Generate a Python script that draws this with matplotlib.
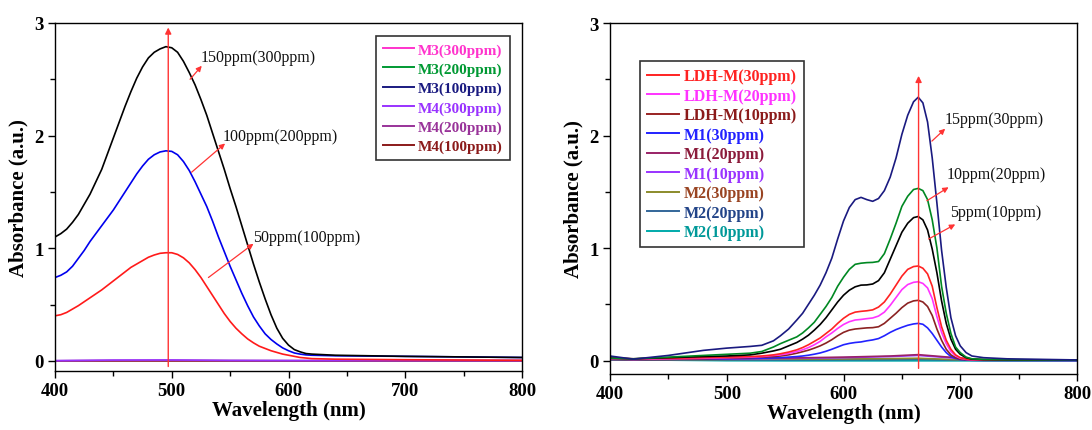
import matplotlib
matplotlib.use("Agg")
import matplotlib.pyplot as plt
from matplotlib.lines import Line2D

plt.rcParams["font.family"] = ["Liberation Serif", "DejaVu Serif"]

# ── left panel: M3 / M4 ────────────────────────────────────────────────
wl_left = [400, 405, 410, 415, 420, 425, 430, 435, 440, 445, 450, 455, 460, 465, 470, 475,
           480, 485, 490, 495, 500, 505, 510, 515, 520, 525, 530, 535, 540, 545, 550, 555,
           560, 565, 570, 575, 580, 585, 590, 595, 600, 605, 610, 615, 620, 640, 700, 800]
m3_300 = [1.10, 1.13, 1.17, 1.23, 1.30, 1.39, 1.48, 1.59, 1.70, 1.84, 1.98, 2.12, 2.26, 2.39, 2.51, 2.61,
          2.69, 2.74, 2.77, 2.79, 2.78, 2.74, 2.66, 2.56, 2.45, 2.32, 2.18, 2.02, 1.86, 1.70, 1.53, 1.37,
          1.20, 1.03, 0.86, 0.70, 0.55, 0.41, 0.29, 0.20, 0.14, 0.10, 0.08, 0.065, 0.06, 0.05, 0.04, 0.03]
m3_200 = [0.74, 0.76, 0.79, 0.84, 0.91, 0.98, 1.06, 1.13, 1.20, 1.27, 1.34, 1.42, 1.50, 1.58, 1.66, 1.73,
          1.79, 1.83, 1.855, 1.865, 1.86, 1.83, 1.77, 1.69, 1.59, 1.48, 1.37, 1.24, 1.10, 0.97, 0.84, 0.72,
          0.60, 0.49, 0.39, 0.31, 0.24, 0.19, 0.15, 0.115, 0.09, 0.07, 0.06, 0.053, 0.05, 0.045, 0.04, 0.03]
m3_100 = [0.40, 0.41, 0.43, 0.46, 0.49, 0.525, 0.56, 0.595, 0.63, 0.67, 0.71, 0.75, 0.79, 0.83, 0.86, 0.89,
          0.92, 0.94, 0.955, 0.96, 0.96, 0.945, 0.915, 0.87, 0.81, 0.74, 0.66, 0.58, 0.50, 0.42, 0.35, 0.29,
          0.24, 0.195, 0.16, 0.13, 0.11, 0.09, 0.075, 0.06, 0.05, 0.04, 0.03, 0.025, 0.02, 0.015, 0.01, 0.005]
wl_m4 = [400, 450, 500, 550, 600, 700, 800]
m4_300 = [0.002, 0.007, 0.008, 0.004, 0.003, 0.003, 0.003]
m4_200 = [0.001, 0.004, 0.005, 0.003, 0.002, 0.002, 0.002]
m4_100 = [0.0, 0.0, 0.0, 0.0, 0.0, 0.0, 0.0]

left_big = [m3_300, m3_200, m3_100]
left_big_colors = ["#000000", "#0000ee", "#ff1a1a"]
left_flat = [m4_300, m4_200, m4_100]
left_flat_colors = ["#9933ff", "#993399", "#8b1a1a"]
left_labels = ["M3(300ppm)", "M3(200ppm)", "M3(100ppm)",
               "M4(300ppm)", "M4(200ppm)", "M4(100ppm)"]
left_legend_colors = ["#ff33cc", "#009933", "#1a1a80", "#9933ff", "#993399", "#8b1a1a"]

left_notes = ["150ppm(300ppm)", "100ppm(200ppm)", "50ppm(100ppm)"]
left_note_base = [(515.7, 2.50), (517, 1.675), (531.4, 0.74)]
left_note_head = [(525.7, 2.62), (545.7, 1.93), (570, 1.04)]
left_note_text = [(525, 2.70), (544, 2.00), (570, 1.10)]
left_peak = 497

# ── right panel: LDH-M / M1 / M2 ───────────────────────────────────────
wl_right = [400, 420, 450, 480, 500, 520, 530, 540, 546, 553, 560, 565, 570, 575, 580, 585,
            590, 595, 600, 605, 610, 615, 620, 625, 630, 635, 640, 645, 650, 655, 660, 664,
            668, 672, 676, 680, 684, 688, 692, 696, 700, 705, 710, 720, 740, 800]
r_navy = [0.04, 0.012, 0.045, 0.09, 0.11, 0.125, 0.135, 0.175, 0.22, 0.28, 0.36, 0.42, 0.50, 0.58, 0.67, 0.78,
          0.91, 1.08, 1.24, 1.36, 1.43, 1.45, 1.43, 1.415, 1.44, 1.51, 1.63, 1.80, 2.01, 2.18, 2.30, 2.34,
          2.29, 2.12, 1.80, 1.40, 0.98, 0.65, 0.38, 0.22, 0.13, 0.07, 0.04, 0.025, 0.015, 0.005]
r_green = [0.02, 0.015, 0.03, 0.045, 0.055, 0.065, 0.08, 0.12, 0.15, 0.18, 0.21, 0.245, 0.29, 0.34, 0.41, 0.48,
           0.56, 0.66, 0.74, 0.81, 0.855, 0.865, 0.87, 0.872, 0.88, 0.95, 1.08, 1.22, 1.37, 1.46, 1.52, 1.53,
           1.51, 1.43, 1.25, 1.00, 0.66, 0.42, 0.24, 0.12, 0.07, 0.03, 0.015, 0.01, 0.007, 0.005]
r_black = [0.02, 0.015, 0.025, 0.035, 0.04, 0.05, 0.065, 0.085, 0.10, 0.13, 0.16, 0.19, 0.225, 0.27, 0.32, 0.38,
           0.45, 0.52, 0.58, 0.625, 0.655, 0.67, 0.672, 0.68, 0.71, 0.78, 0.90, 1.02, 1.14, 1.22, 1.27, 1.28,
           1.25, 1.16, 0.99, 0.78, 0.53, 0.33, 0.19, 0.10, 0.055, 0.025, 0.012, 0.008, 0.006, 0.005]
r_red = [0.02, 0.015, 0.02, 0.025, 0.03, 0.035, 0.04, 0.05, 0.06, 0.075, 0.095, 0.115, 0.14, 0.17, 0.20, 0.24,
         0.28, 0.33, 0.375, 0.41, 0.43, 0.437, 0.442, 0.45, 0.475, 0.52, 0.59, 0.67, 0.75, 0.81, 0.835, 0.84,
         0.82, 0.77, 0.66, 0.47, 0.30, 0.18, 0.10, 0.05, 0.025, 0.012, 0.008, 0.006, 0.005, 0.005]
r_magenta = [0.015, 0.01, 0.015, 0.02, 0.025, 0.03, 0.035, 0.045, 0.05, 0.063, 0.08, 0.095, 0.115, 0.14, 0.17, 0.21,
             0.245, 0.285, 0.32, 0.345, 0.36, 0.365, 0.372, 0.378, 0.395, 0.43, 0.49, 0.56, 0.63, 0.675, 0.695, 0.70,
             0.685, 0.645, 0.55, 0.39, 0.25, 0.15, 0.08, 0.04, 0.02, 0.01, 0.007, 0.005, 0.005, 0.005]
r_brown = [0.01, 0.008, 0.01, 0.015, 0.02, 0.025, 0.03, 0.035, 0.04, 0.05, 0.065, 0.078, 0.092, 0.11, 0.13, 0.155,
           0.185, 0.22, 0.25, 0.27, 0.28, 0.285, 0.29, 0.292, 0.30, 0.33, 0.375, 0.42, 0.47, 0.51, 0.53, 0.535,
           0.52, 0.48, 0.40, 0.28, 0.18, 0.10, 0.05, 0.025, 0.012, 0.007, 0.005, 0.004, 0.004, 0.004]
r_blue = [0.01, 0.008, 0.01, 0.012, 0.015, 0.018, 0.02, 0.023, 0.025, 0.03, 0.035, 0.04, 0.047, 0.056, 0.067, 0.082,
          0.10, 0.12, 0.14, 0.152, 0.16, 0.165, 0.175, 0.183, 0.195, 0.22, 0.25, 0.275, 0.295, 0.313, 0.325, 0.33,
          0.322, 0.29, 0.24, 0.18, 0.12, 0.07, 0.035, 0.018, 0.008, 0.004, 0.002, 0.001, 0.0, 0.0]

wl_flat = [400, 420, 450, 500, 550, 600, 640, 664, 690, 720, 800]
r_m1_20 = [0.02, 0.015, 0.015, 0.018, 0.022, 0.03, 0.04, 0.052, 0.03, 0.005, 0.002]
r_m1_10 = [0.015, 0.012, 0.012, 0.014, 0.018, 0.025, 0.035, 0.045, 0.025, 0.004, 0.001]
r_m2_30 = [0.01, 0.008, 0.008, 0.01, 0.012, 0.014, 0.017, 0.02, 0.01, 0.002, 0.0]
r_m2_20 = [0.005, 0.004, 0.004, 0.005, 0.006, 0.007, 0.008, 0.01, 0.005, 0.001, 0.0]
r_m2_10 = [0.02, 0.01, 0.003, -0.002, -0.003, -0.003, -0.003, -0.003, -0.003, -0.003, -0.003]

right_big = [r_blue, r_brown, r_magenta, r_red, r_black, r_green, r_navy]
right_big_colors = ["#2222ff", "#8b2222", "#ff33ff", "#ff2222", "#000000", "#008822", "#1a1a80"]
right_flat = [r_m2_10, r_m2_20, r_m2_30, r_m1_10, r_m1_20]
right_flat_colors = ["#00aaaa", "#336699", "#8b8b2b", "#9933ff", "#992266"]
right_labels = ["LDH-M(30ppm)", "LDH-M(20ppm)", "LDH-M(10ppm)",
                "M1(30ppm)", "M1(20ppm)", "M1(10ppm)",
                "M2(30ppm)", "M2(20ppm)", "M2(10ppm)"]
right_legend_lines = ["#ff2222", "#ff33ff", "#992222", "#2222ff", "#992266",
                      "#9933ff", "#8b8b2b", "#336699", "#00aaaa"]
right_legend_text = ["#ff2222", "#ff33ff", "#8b1a1a", "#2222ff", "#8b1a3a",
                     "#9933ff", "#994422", "#224488", "#009999"]

right_notes = ["15ppm(30ppm)", "10ppm(20ppm)", "5ppm(10ppm)"]
right_note_base = [(675.7, 1.95), (671.4, 1.42), (672.9, 1.08)]
right_note_head = [(687.1, 2.06), (690, 1.54), (695.7, 1.21)]
right_note_text = [(687, 2.15), (688.6, 1.66), (691.4, 1.32)]
right_peak = 664.3

ARROW_RED = "#ff3333"


def style_axes(ax, ylow):
    ax.set_xlim(400, 800)
    ax.set_ylim(ylow, 3)
    ax.set_xticks([400, 500, 600, 700, 800])
    ax.set_xticks([450, 550, 650, 750], minor=True)
    ax.set_yticks([0, 1, 2, 3])
    ax.set_yticks([0.5, 1.5, 2.5], minor=True)
    ax.tick_params(which="both", direction="out", top=False, right=False, width=1.0)
    ax.tick_params(which="major", length=5, labelsize=13.5, pad=3)
    ax.tick_params(which="minor", length=3.5)
    for lab in ax.get_xticklabels() + ax.get_yticklabels():
        lab.set_fontweight("bold")
    for sp in ax.spines.values():
        sp.set_linewidth(1.0)
    ax.set_xlabel("Wavelength (nm)", fontsize=15, fontweight="bold", labelpad=1)
    ax.set_ylabel("Absorbance (a.u.)", fontsize=15, fontweight="bold", labelpad=4)


def add_notes(ax, notes, bases, heads, texts):
    for note, b, h, t in zip(notes, bases, heads, texts):
        ax.annotate("", xy=h, xytext=b,
                    arrowprops=dict(arrowstyle="-|>", color=ARROW_RED, lw=0.9,
                                    mutation_scale=8, shrinkA=0, shrinkB=0))
        ax.text(t[0], t[1], note, fontsize=11.5, ha="left", va="center", color="#111111")


def add_legend(ax, labels, line_colors, text_colors, anchor, fontsize, spacing):
    handles = [Line2D([0], [0], color=c, lw=1.4) for c in line_colors]
    leg = ax.legend(handles, labels, loc="upper right" if anchor[0] > 0.5 else "upper left",
                    bbox_to_anchor=anchor, frameon=True, fancybox=False,
                    prop={"weight": "bold", "size": fontsize},
                    handlelength=2.0, handletextpad=0.3, labelspacing=spacing,
                    borderpad=0.45, borderaxespad=0)
    leg.get_frame().set_edgecolor("black")
    leg.get_frame().set_linewidth(1.2)
    for txt, c in zip(leg.get_texts(), text_colors):
        txt.set_color(c)


fig = plt.figure(figsize=(10.92, 4.31), dpi=100)

ax1 = fig.add_axes([55 / 1092, 1 - 372 / 431, 467 / 1092, 348 / 431])
for y, c in zip(left_flat[::-1], left_flat_colors[::-1]):
    ax1.plot(wl_m4, y, color=c, lw=1.2)
for y, c in zip(left_big[::-1], left_big_colors[::-1]):
    ax1.plot(wl_left, y, color=c, lw=1.2)
ax1.annotate("", xy=(left_peak, 2.96), xytext=(left_peak, -0.05),
             arrowprops=dict(arrowstyle="-|>", color=ARROW_RED, lw=1.0,
                             mutation_scale=9, shrinkA=0, shrinkB=0))
add_notes(ax1, left_notes, left_note_base, left_note_head, left_note_text)
style_axes(ax1, -0.09)
add_legend(ax1, left_labels, left_legend_colors, left_legend_colors, (0.974, 0.963), 11, 0.36)

ax2 = fig.add_axes([610 / 1092, 1 - 375 / 431, 467 / 1092, 351 / 431])
for y, c in zip(right_flat, right_flat_colors):
    ax2.plot(wl_flat, y, color=c, lw=1.2)
for y, c in zip(right_big, right_big_colors):
    ax2.plot(wl_right, y, color=c, lw=1.2)
ax2.annotate("", xy=(right_peak, 2.53), xytext=(right_peak, -0.07),
             arrowprops=dict(arrowstyle="-|>", color=ARROW_RED, lw=1.0,
                             mutation_scale=9, shrinkA=0, shrinkB=0))
add_notes(ax2, right_notes, right_note_base, right_note_head, right_note_text)
style_axes(ax2, -0.12)
add_legend(ax2, right_labels, right_legend_lines, right_legend_text, (0.064, 0.892), 11.5, 0.22)

fig.savefig("out.png", dpi=100)
